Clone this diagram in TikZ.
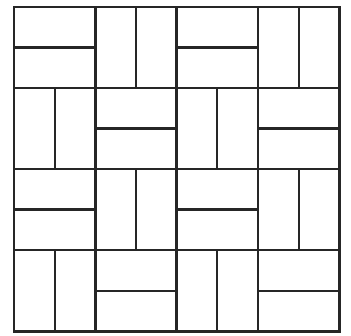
\documentclass[tikz,border=0pt]{standalone}
\begin{document}
\begin{tikzpicture}[x=1pt,y=-1pt,line cap=rect]
\tikzset{tile/.style={draw=black!85,line width=2.4pt}}
\useasboundingbox (0,0) rectangle (351,336);
\fill[white] (0,0) rectangle (351,336);
% grid
\foreach \x in {14,95.5,176.5,258,339.5} \draw[tile] (\x,7) -- (\x,331.5);
\foreach \y in {7,88,169,250,331.5} \draw[tile] (14,\y) -- (339.5,\y);
% splits
\def\xs{{14,95.5,176.5,258,339.5}}
\def\ys{{7,88,169,250,331.5}}
\foreach \r in {0,1,2,3}{
  \foreach \c in {0,1,2,3}{
    \pgfmathsetmacro{\xa}{\xs[\c]}
    \pgfmathsetmacro{\xb}{\xs[\c+1]}
    \pgfmathsetmacro{\ya}{\ys[\r]}
    \pgfmathsetmacro{\yb}{\ys[\r+1]}
    \pgfmathtruncatemacro{\parity}{mod(\r+\c,2)}
    \ifnum\parity=0
      \draw[tile] (\xa,{(\ya+\yb)/2}) -- (\xb,{(\ya+\yb)/2});
    \else
      \draw[tile] ({(\xa+\xb)/2},\ya) -- ({(\xa+\xb)/2},\yb);
    \fi
  }
}
\end{tikzpicture}
\end{document}
